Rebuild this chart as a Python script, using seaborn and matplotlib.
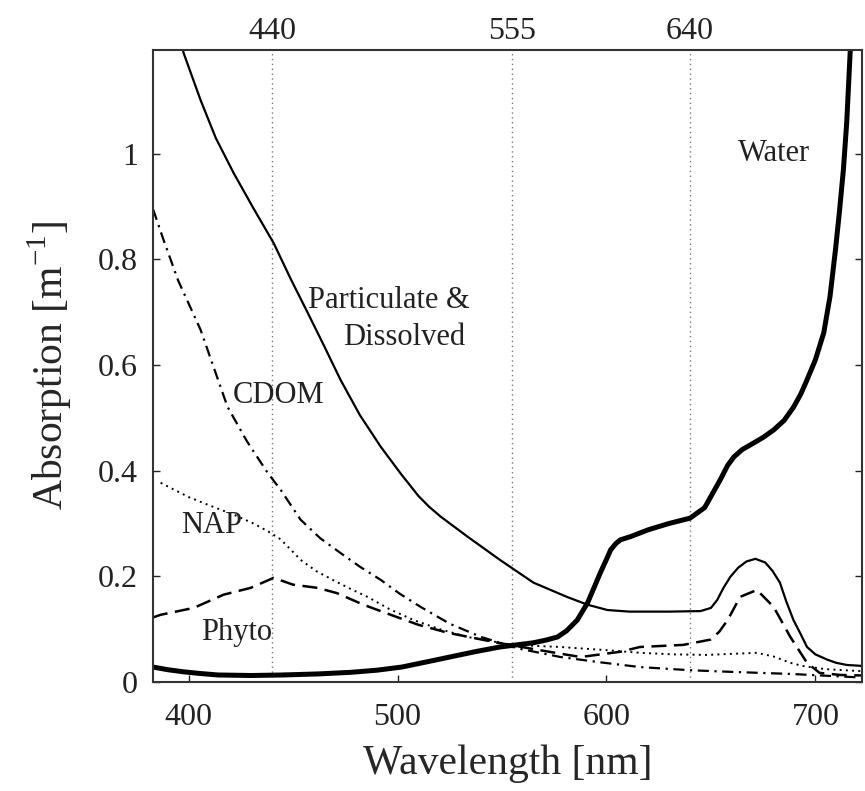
import matplotlib
matplotlib.use("Agg")
import matplotlib.pyplot as plt
import seaborn as sns

# Absorption spectra components [m^-1] vs wavelength [nm]
wl_total = [395, 397.6, 405.7, 413, 421.5, 431, 440.7, 449, 457, 465, 472.7, 482, 492, 501.4,
            510, 515, 520.6, 533.5, 549, 565, 581, 591, 600.5, 611, 630, 645, 650, 653, 656,
            659.3, 663, 667, 671.3, 676, 679.5, 683, 686, 689.5, 693, 696, 700, 705.7, 710, 715,
            723]
a_total = [1.235, 1.191, 1.102, 1.030, 0.964, 0.897, 0.831, 0.762, 0.699, 0.635, 0.572, 0.505,
           0.445, 0.395, 0.352, 0.332, 0.313, 0.275, 0.231, 0.188, 0.161, 0.146, 0.136, 0.133,
           0.133, 0.134, 0.140, 0.155, 0.178, 0.199, 0.216, 0.228, 0.233, 0.226, 0.210, 0.188,
           0.153, 0.117, 0.090, 0.066, 0.052, 0.042, 0.036, 0.032, 0.030]

wl_water = [383, 390, 397.6, 405, 414, 430, 445, 462, 477.5, 490, 502, 513, 525, 537, 549, 557,
            565, 571, 576.6, 581, 586, 591, 594, 597, 600, 602, 604.5, 606.7, 611.5, 620, 630,
            640, 647, 654.5, 658, 661, 665, 670.3, 675, 680, 685, 689.5, 693, 696, 700, 704,
            707, 709.6, 711.5, 713.4, 715, 716.7, 718.5]
a_water = [0.028, 0.023, 0.019, 0.016, 0.013, 0.012, 0.013, 0.015, 0.018, 0.022, 0.028, 0.037,
           0.047, 0.057, 0.066, 0.070, 0.074, 0.079, 0.085, 0.097, 0.117, 0.150, 0.178, 0.206,
           0.232, 0.250, 0.262, 0.269, 0.275, 0.288, 0.300, 0.310, 0.330, 0.383, 0.410, 0.426,
           0.440, 0.452, 0.463, 0.477, 0.495, 0.520, 0.545, 0.572, 0.610, 0.661, 0.730, 0.818,
           0.890, 0.970, 1.060, 1.197, 1.280]

wl_cdom = [383, 388, 395, 405.7, 418.6, 428, 437.8, 444, 453.6, 463, 472.7, 482, 492, 501, 511,
           525, 540, 558, 578, 597, 616, 640, 659, 688, 723]
a_cdom = [0.895, 0.837, 0.760, 0.667, 0.521, 0.455, 0.396, 0.364, 0.307, 0.272, 0.244, 0.218,
          0.193, 0.167, 0.142, 0.110, 0.085, 0.063, 0.047, 0.037, 0.028, 0.022, 0.019, 0.015,
          0.008]

wl_nap = [386.6, 400, 412, 422, 431, 438, 444, 449, 453.6, 461, 469, 477, 485.6, 496, 507.7,
          520, 533.5, 555, 578, 600, 616, 632, 648, 660, 672, 680, 688, 694, 705, 723]
a_nap = [0.377, 0.350, 0.331, 0.316, 0.300, 0.285, 0.270, 0.250, 0.231, 0.210, 0.193, 0.177,
         0.161, 0.138, 0.117, 0.100, 0.085, 0.070, 0.066, 0.060, 0.055, 0.052, 0.051, 0.053,
         0.055, 0.048, 0.036, 0.030, 0.024, 0.020]

wl_phyto = [383, 386.6, 402.4, 416.7, 429.7, 440.7, 450, 461.7, 471, 483.7, 496.7, 510, 524,
            548, 568, 587.6, 606.7, 616, 636.8, 649.8, 654, 658, 664, 672, 680, 688, 696, 702,
            712, 723]
a_phyto = [0.122, 0.127, 0.140, 0.165, 0.178, 0.197, 0.184, 0.178, 0.168, 0.146, 0.127, 0.108,
           0.093, 0.074, 0.060, 0.047, 0.057, 0.066, 0.070, 0.080, 0.095, 0.117, 0.161, 0.174,
           0.142, 0.085, 0.036, 0.017, 0.013, 0.012]

bottom_ticks = [400, 500, 600, 700]
top_ticks = [440, 555, 640]
y_ticks = [0, 0.2, 0.4, 0.6, 0.8, 1.0]

sns.set_theme(style="ticks")
plt.rcParams["font.family"] = ["Liberation Serif", "DejaVu Serif"]
plt.rcParams["xtick.direction"] = "in"
plt.rcParams["ytick.direction"] = "in"

fig = plt.figure(figsize=(8.65, 7.91), dpi=100)
ax = fig.add_axes([0.177, 0.138, 0.820, 0.799])

ink = "black"
common = dict(ax=ax, color=ink, estimator=None, sort=False)
sns.lineplot(x=wl_total, y=a_total, lw=1.6, **common)
sns.lineplot(x=wl_water, y=a_water, lw=3.6, **common)
sns.lineplot(x=wl_cdom, y=a_cdom, lw=1.6, linestyle=(0, (5, 2.5, 1, 2.5)), **common)
sns.lineplot(x=wl_nap, y=a_nap, lw=1.4, linestyle=(0, (1, 2.2)), **common)
sns.lineplot(x=wl_phyto, y=a_phyto, lw=1.8, linestyle=(0, (6, 3)), **common)

# dotted guides at the band centres marked on the top axis
for w in top_ticks:
    ax.axvline(w, color="#777777", lw=1.0, ls=(0, (1, 2.5)), zorder=0)

ax.set_xlim(383, 722.5)
ax.set_ylim(0, 1.197)
ax.set_xticks(bottom_ticks)
ax.set_yticks(y_ticks)
ax.set_yticklabels(["%g" % v for v in y_ticks])
ax.tick_params(axis="both", labelsize=23, length=5, width=1, top=True, right=True,
               colors="#222222")
ax.tick_params(axis="x", pad=15)
ax.tick_params(axis="y", pad=11)
for s in ax.spines.values():
    s.set_linewidth(1.5)
    s.set_color("#333333")

top = ax.twiny()
top.set_xlim(ax.get_xlim())
top.set_xticks(top_ticks)
top.tick_params(axis="x", length=0, labelsize=23, pad=3, colors="#222222")
for s in top.spines.values():
    s.set_visible(False)

ax.set_xlabel("Wavelength [nm]", fontsize=30, labelpad=9)
ax.set_ylabel(r"Absorption [m$^{\mathregular{-1}}$]", fontsize=30, labelpad=17)

txt = dict(fontsize=22, color="#222222", ha="center", va="center")
ax.text(680, 1.0, "Water", **txt)
ax.text(496, 0.723, "Particulate &", **txt)
ax.text(503, 0.652, "Dissolved", **txt)
ax.text(443, 0.543, "CDOM", **txt)
ax.text(411, 0.297, "NAP", **txt)
ax.text(423, 0.093, "Phyto", **txt)

fig.savefig("out.png", dpi=100)
